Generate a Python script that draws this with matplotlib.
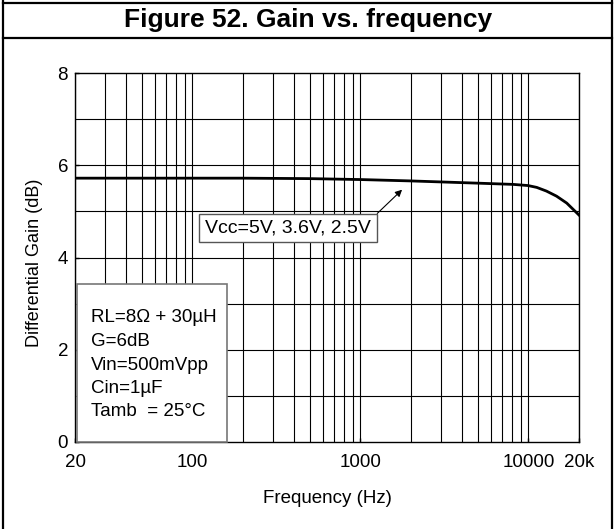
import numpy as np, matplotlib; matplotlib.use("Agg"); import matplotlib.pyplot as plt
from matplotlib.lines import Line2D
from matplotlib.patches import Rectangle
from matplotlib.ticker import FixedLocator, NullFormatter, NullLocator

plt.rcParams.update({"font.family": ["Liberation Sans", "DejaVu Sans"], "font.size": 13.5})

freq = [20, 50, 100, 200, 500, 1000, 2000, 5150, 8100, 9940, 11200, 12800, 14700, 16900, 20000]
gain = [5.72, 5.72, 5.72, 5.72, 5.71, 5.69, 5.66, 5.61, 5.585, 5.56, 5.52, 5.44, 5.33, 5.18, 4.92]
xticks = [20, 100, 1000, 10000, 20000]
xticklabels = ["20", "100", "1000", "10000", "20k"]
yticks = [0, 2, 4, 6, 8]
conditions = ["RL=8\u03a9 + 30\u00b5H", "G=6dB", "Vin=500mVpp", "Cin=1\u00b5F", "Tamb  = 25\u00b0C"]

fig = plt.figure(figsize=(6.16, 5.29), dpi=100)
ax = fig.add_axes([75/616, 1-442/529, 504/616, 369/529])

# outer frame + title band
for (x0, y0, x1, y1) in [(3, 0, 3, 529), (612, 0, 612, 529), (3, 3, 612, 3), (3, 38, 612, 38)]:
    fig.add_artist(Line2D([x0/616, x1/616], [1-y0/529, 1-y1/529], color="black", lw=1.6,
                          transform=fig.transFigure))
fig.text(0.5, 1-20/529, "Figure 52. Gain vs. frequency", ha="center", va="center",
         fontsize=19, fontweight="bold")

ax.set_xscale("log")
ax.set_xlim(20, 20000)
ax.set_ylim(0, 8)
grid_x = [m*10**d for d in range(1, 5) for m in range(1, 10) if 20 <= m*10**d <= 20000]
for gx in grid_x:
    ax.axvline(gx, color="black", lw=0.8, zorder=1)
for gy in range(1, 8):
    ax.axhline(gy, color="black", lw=0.8, zorder=1)

ax.plot(freq, gain, color="black", lw=2.0, zorder=3)

ax.xaxis.set_major_locator(FixedLocator(xticks))
ax.set_xticklabels(xticklabels)
ax.xaxis.set_minor_locator(NullLocator())
ax.xaxis.set_minor_formatter(NullFormatter())
ax.set_yticks(yticks)
ax.tick_params(direction="in", length=3, width=1, labelsize=13.5, pad=5)
ax.tick_params(axis="x", pad=8.6)
for s in ax.spines.values():
    s.set_linewidth(1.0)

ax.set_xlabel("Frequency (Hz)", fontsize=13.5, labelpad=14)
ax.set_ylabel("Differential Gain (dB)", fontsize=13, labelpad=8)
ax.yaxis.set_label_coords(-0.0635, 0.485)

# conditions box
box = Rectangle((77/616, 1-442/529), 150/616, 158/529, transform=fig.transFigure,
                facecolor="white", edgecolor="#777777", lw=1.2, zorder=5)
fig.add_artist(box)
for i, line in enumerate(conditions):
    fig.text(91/616, 1-(318+23.5*i)/529, line, ha="left", va="center", fontsize=13.5, zorder=6)

ax.annotate("Vcc=5V, 3.6V, 2.5V", xy=(1770, 5.47), xytext=(288/616, 1-228/529),
            textcoords="figure fraction", ha="center", va="center", fontsize=14,
            bbox=dict(boxstyle="square,pad=0.3", fc="white", ec="#555555", lw=1.0),
            arrowprops=dict(arrowstyle="-|>", color="black", lw=0.8, mutation_scale=10,
                            shrinkA=0, shrinkB=0, relpos=(1.0, 1.0)), zorder=6)

fig.savefig("out.png", dpi=100)
